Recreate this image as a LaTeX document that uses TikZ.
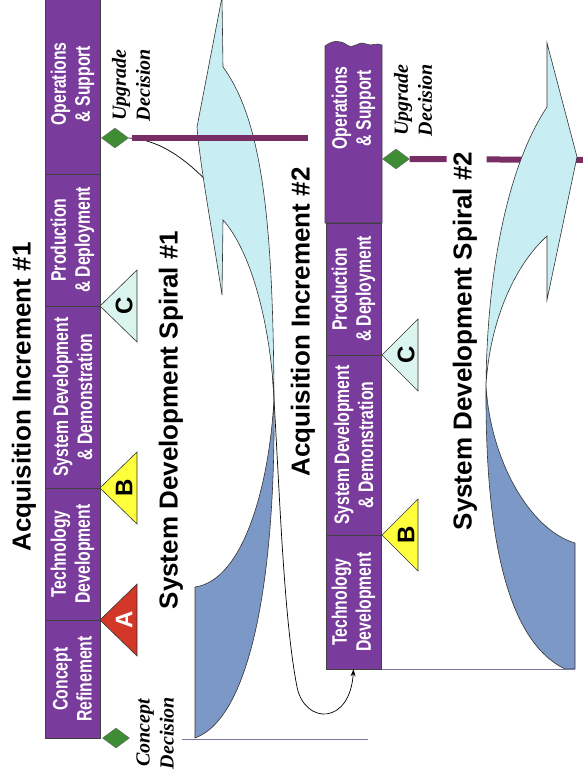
\documentclass[tikz,border=0pt]{standalone}
\usepackage{fontspec}
\setmainfont{Liberation Serif}
\newfontfamily\tfont{Liberation Sans}
\newfontfamily\bfont[FakeStretch=0.75]{Liberation Sans}
\newfontfamily\dfont{Liberation Serif}
\usetikzlibrary{shapes.geometric,arrows.meta}
\definecolor{barpurple}{RGB}{122,60,156}
\definecolor{uplinec}{RGB}{120,45,100}
\definecolor{diagreen}{RGB}{62,140,52}
\definecolor{arrcyan}{RGB}{200,238,243}
\definecolor{spblue}{RGB}{124,152,198}
\definecolor{triC}{RGB}{218,245,238}
\definecolor{triB}{RGB}{255,255,60}
\definecolor{triA}{RGB}{210,55,40}
\definecolor{baseln}{RGB}{120,120,160}
\begin{document}
\begin{tikzpicture}[x=1pt,y=-1pt,
  seg/.style={draw=black!75, line width=0.6pt, fill=barpurple, rotate=90, minimum height=55pt, inner sep=0pt, align=center, text=white, font=\bfont\bfseries\fontsize{21}{24}\selectfont},
  segtext/.style={rotate=90, inner sep=0pt, align=center, text=white, font=\bfont\bfseries\fontsize{21}{24}\selectfont},
  ttl/.style={rotate=90, inner sep=0pt, font=\tfont\bfseries\fontsize{26}{30}\selectfont},
  tri/.style={draw=black!80, line width=0.6pt},
  letter/.style={rotate=90, inner sep=0pt, font=\tfont\bfseries\fontsize{24}{24}\selectfont},
  decision/.style={diamond, draw=black!60, line width=0.4pt, fill=diagreen, minimum width=27pt, minimum height=20pt, inner sep=0pt},
  dtext/.style={rotate=90, inner sep=0pt, align=center, font=\dfont\bfseries\itshape\fontsize{20}{24}\selectfont},
  ribbon/.style={draw=black!80, line width=0.6pt},
  upline/.style={draw=uplinec, line width=6pt},
  baseln/.style={draw=baseln, line width=0.8pt},
  conn/.style={draw=black, line width=0.7pt, -{Stealth[length=7pt,width=5pt]}}
]
\useasboundingbox (0,0) rectangle (583,781);

% ---------- decisions (needed for connectors)
\node[decision] (ud1) at (115,138) {};
\node[decision] (cd1) at (116,738) {};
\node[decision] (ud2) at (396,159) {};

% ---------- increment 2 bar node for the connector target
\node[seg, minimum width=134pt] (tech2) at (353.5,602) {Technology\\Development};

% ---------- connector from upgrade decision #1 to increment #2 (behind spiral)
\draw[conn] (ud1.east) .. controls (170,140) and (205,175) .. (235,215)
  .. controls (260,250) and (270,320) .. (274,400)
  .. controls (280,500) and (284,620) .. (297,687)
  .. controls (305,725) and (350,725) .. (tech2.west);

% ---------- spiral #1
\coordinate (X1) at (274,398);
\draw[ribbon, fill=spblue] (195,587) -- (195,738)
  .. controls (250,718) and (276,580) .. (X1)
  .. controls (270,480) and (245,580) .. cycle;
\draw[ribbon, fill=arrcyan] (222,-3) -- (223,67)
  .. controls (262,120) and (273,220) .. (X1)
  .. controls (270,320) and (250,250) .. (223,220)
  -- (222,295)
  .. controls (212,230) and (200,165) .. (197,127) -- cycle;
\coordinate (ul1end) at (308,138);
\draw[upline] ([xshift=3pt]ud1.east) -- (ul1end);

% ---------- spiral #2
\coordinate (ul2end) at (590,160);
\draw[upline, dash pattern=on 37pt off 40pt] (ud2.east) -- (ul2end);
\coordinate (X2) at (486,385);
\draw[ribbon, fill=spblue] (X2)
  .. controls (485,530) and (505,640) .. (565,669)
  -- (575,669) -- (575,543)
  .. controls (530,530) and (490,460) .. cycle;
\draw[ribbon, fill=arrcyan] (547,43) -- (577,157) -- (547,300) -- (547,236)
  .. controls (515,265) and (490,320) .. (X2)
  .. controls (487,280) and (505,170) .. (547,107) -- cycle;

% ---------- baselines
\coordinate (b1s) at (182,739); \coordinate (b1e) at (368,739);
\draw[baseln] (b1s) -- (b1e);
\coordinate (b2s) at (382,669); \coordinate (b2e) at (575,669);
\draw[baseln] (b2s) -- (b2e);

% ---------- titles
\node[ttl] (t1) at (24,397) {Acquisition Increment \#1};
\node[ttl] (t2) at (303,322) {Acquisition Increment \#2};
\node[ttl] (s1) at (171,420) {System Development Spiral \#1};
\node[ttl] (s2) at (465,341) {System Development Spiral \#2};

% ---------- increment 1 bar
\node[seg, minimum width=180pt] (ops1) at (72.5,84) {Operations\\\& Support};
\node[seg, minimum width=132pt] (prod1) at (72.5,240) {Production\\\& Deployment};
\node[seg, minimum width=182pt] (sys1) at (72.5,397) {System Development\\\& Demonstration};
\node[seg, minimum width=132pt] (tech1) at (72.5,554) {Technology\\Development};
\node[seg, minimum width=118pt] (cr1) at (72.5,679) {Concept\\Refinement};

% ---------- increment 2 bar
\draw[draw=black!75, line width=0.6pt, fill=barpurple] (325,223) -- (325,46)
  .. controls (333,40) and (340,40) .. (347,45)
  .. controls (354,50) and (358,40) .. (366,44)
  .. controls (372,47) and (376,42) .. (382,45) -- (382,223) -- cycle;
\node[segtext] (ops2) at (353.5,108) {Operations\\\& Support};
\node[seg, minimum width=132pt] (prod2) at (353.5,289) {Production\\\& Deployment};
\node[seg, minimum width=180pt] (sys2) at (353.5,445) {System Development\\\& Demonstration};

% ---------- milestones
\draw[tri, fill=triA] (100,620) -- (137,584) -- (137,656) -- cycle;
\node[letter, text=white] (mA) at (124,620) {A};
\draw[tri, fill=triB] (100,488) -- (137,452) -- (137,524) -- cycle;
\node[letter] (mB1) at (124,488) {B};
\draw[tri, fill=triC] (100,306) -- (137,270) -- (137,342) -- cycle;
\node[letter] (mC1) at (124,306) {C};
\draw[tri, fill=triB] (382,535) -- (418,499) -- (418,571) -- cycle;
\node[letter] (mB2) at (406,535) {B};
\draw[tri, fill=triC] (382,355) -- (418,319) -- (418,391) -- cycle;
\node[letter] (mC2) at (406,355) {C};

% ---------- decision labels
\node[dtext] (ud1t) at (131,85) {Upgrade\\Decision};
\node[dtext] (cd1t) at (155,733) {Concept\\Decision};
\node[dtext] (ud2t) at (413,100) {Upgrade\\Decision};
\end{tikzpicture}
\end{document}
